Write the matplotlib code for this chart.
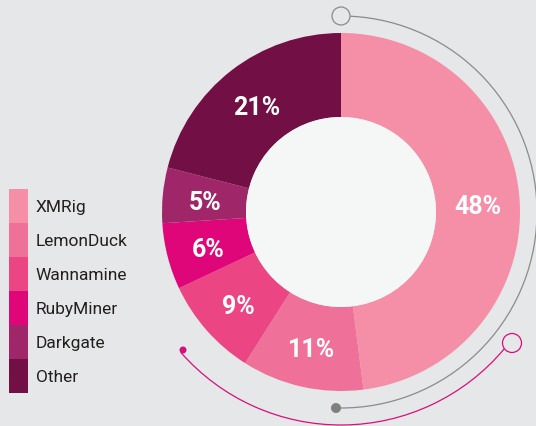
import matplotlib

matplotlib.use("Agg")
import matplotlib.pyplot as plt  # noqa: E402
from matplotlib.patches import Arc, Circle  # noqa: E402

# share of detections by miner family (%)
families = ["XMRig", "LemonDuck", "Wannamine", "RubyMiner", "Darkgate", "Other"]
shares = [48, 11, 9, 6, 5, 21]
colors = ["#f58ea7", "#ef7098", "#ec4583", "#df0679", "#a0266a", "#720f45"]

BG = "#e6e7e8"
W, H = 536, 427
CX, CY = 341, 427 - 213  # donut centre, pixel coords (y up)
R_OUT, R_IN = 179, 95

fig = plt.figure(figsize=(W / 100, H / 100), dpi=100, facecolor=BG)
ax = fig.add_axes([0, 0, 1, 1])

wedges, texts, autotexts = ax.pie(
    shares, colors=colors, startangle=90, counterclock=False,
    center=(CX, CY), radius=R_OUT, frame=True,
    wedgeprops=dict(width=R_OUT - R_IN, linewidth=0),
    autopct=lambda p: f"{p:.0f}%", pctdistance=(R_OUT + R_IN) / 2 / R_OUT,
    textprops=dict(color="white", fontsize=18, fontweight="bold", family="Roboto"),
)
for t in autotexts:
    x, y = t.get_position()
    t.set_position((x, y - 3))
ax.set_xlim(0, W)
ax.set_ylim(0, H)
ax.set_aspect("equal")
ax.axis("off")
ax.add_patch(Circle((CX, CY), R_IN, facecolor="#f5f6f6", edgecolor="none", zorder=3))

# decorative arcs
gray, pink = "#8b8b8b", "#d90f7c"
ax.add_patch(Arc((CX, CY), 2 * 196, 2 * 196, theta1=-90.5, theta2=87.3,
                 color=gray, lw=0.9))
ax.add_patch(Circle((341, H - 17), 9, facecolor="none", edgecolor=gray, lw=0.9))
ax.add_patch(Circle((336, H - 409), 5, facecolor="#7f7f7f", edgecolor="none"))
ax.add_patch(Arc((CX, CY), 2 * 213, 2 * 213, theta1=-138.8, theta2=-40.0,
                 color=pink, lw=0.9))
ax.add_patch(Circle((512, H - 344), 9.5, facecolor="none", edgecolor=pink, lw=0.9))
ax.add_patch(Circle((183, H - 351), 3.5, facecolor=pink, edgecolor="none"))

# legend: contiguous colour blocks 19 x 34 px
fs = 12.5
em = fs * 100 / 72
block_h = 34 / em
leg = ax.legend(
    wedges, families, loc="upper left", bbox_to_anchor=(9 / W, 1 - 190 / H),
    frameon=False, borderpad=0, borderaxespad=0, labelspacing=0,
    handlelength=19 / em, handleheight=(block_h - 0.245) / 0.65,
    handletextpad=0.45, prop=dict(family="Roboto", size=fs),
)
for t in leg.get_texts():
    t.set_color("#231f20")

fig.savefig("out.png", dpi=100, facecolor=BG)
